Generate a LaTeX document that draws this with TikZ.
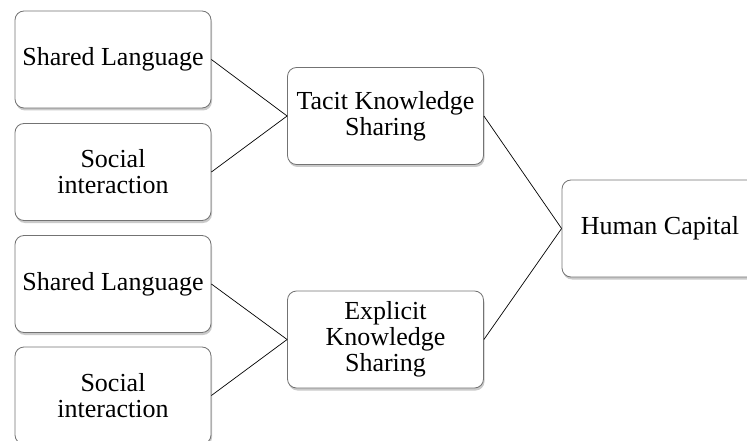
\documentclass[tikz,border=0pt]{standalone}
\usepackage{fontspec}
\setmainfont{Liberation Serif}
\usetikzlibrary{shadows}
\begin{document}
\begin{tikzpicture}[x=1pt,y=-1pt,
  box/.style={draw=black!55, line width=0.8pt, rounded corners=9pt, fill=white,
    minimum width=196pt, minimum height=97pt, inner sep=1pt, align=center,
    font=\fontsize{26}{26}\selectfont,
    drop shadow={shadow xshift=1pt, shadow yshift=-2.5pt, opacity=0.35, fill=black!60}},
  link/.style={draw=black, line width=0.7pt}]
\useasboundingbox (0,0) rectangle (747,441);
\node[box] (sl1) at (113,59.5) {Shared Language};
\node[box] (si1) at (113,172) {Social\\interaction};
\node[box] (sl2) at (113,284) {Shared Language};
\node[box] (si2) at (113,395.5) {Social\\interaction};
\node[box] (tks) at (385.5,116) {Tacit Knowledge\\Sharing};
\node[box] (eks) at (385.5,339.5) {Explicit\\Knowledge\\Sharing};
\node[box] (hc) at (660,228.5) {Human Capital};
\draw[link] (sl1.east) -- (tks.west);
\draw[link] (si1.east) -- (tks.west);
\draw[link] (sl2.east) -- (eks.west);
\draw[link] (si2.east) -- (eks.west);
\draw[link] (tks.east) -- (hc.west);
\draw[link] (eks.east) -- (hc.west);
\end{tikzpicture}
\end{document}
